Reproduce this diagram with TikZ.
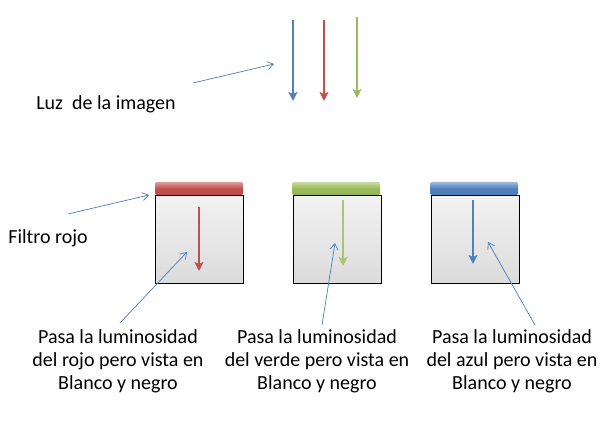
\documentclass[tikz,border=0pt]{standalone}
\usepackage{fontspec}
\setmainfont{Carlito}
\usetikzlibrary{arrows.meta}
\definecolor{oblue}{HTML}{4F81BD}
\definecolor{ored}{HTML}{C0504D}
\definecolor{ogreen}{HTML}{9BBB59}
\definecolor{ptr}{HTML}{4A7EBB}
\tikzset{
  lbl/.style={font=\fontsize{20}{23}\selectfont, align=center, inner sep=0pt},
  ray/.style={line width=2.6pt, -{Stealth[length=9pt,width=9pt,inset=2pt]}},
  pointer/.style={draw=ptr, line width=0.7pt, -{Straight Barb[length=6pt,width=8pt]}},
  boxnode/.style={draw=black, line width=0.8pt, minimum width=88pt, minimum height=88pt, inner sep=0pt, top color=gray!10, bottom color=gray!28},
  barnode/.style={minimum width=88pt, minimum height=13pt, inner sep=0pt, rounded corners=1.5pt},
}
\begin{document}
\begin{tikzpicture}[x=1pt,y=-1pt]
\useasboundingbox (0,0) rectangle (605,427);
% top light rays
\coordinate (bs) at (293,20); \coordinate (be) at (293,101);
\coordinate (rs) at (324,20); \coordinate (re) at (324,101);
\coordinate (gs) at (357,17); \coordinate (ge) at (357,98);
\draw[ray, oblue] (bs) -- (be);
\draw[ray, ored] (rs) -- (re);
\draw[ray, ogreen] (gs) -- (ge);
\node[lbl] (luz) at (106,104) {Luz \ de la imagen};
\coordinate (luzS) at (193,83); \coordinate (luzE) at (274,64);
\draw[pointer] (luzS) -- (luzE);
% filters
\node[boxnode] (boxR) at (199.5,239) {};
\node[boxnode] (boxG) at (337,239) {};
\node[boxnode] (boxB) at (475,239) {};
\node[barnode, top color=ored!55, bottom color=ored!95!black, middle color=ored] (barR) at (199,188.5) {};
\node[barnode, top color=ogreen!55, bottom color=ogreen!95!black, middle color=ogreen] (barG) at (336,188.5) {};
\node[barnode, top color=oblue!55, bottom color=oblue!95!black, middle color=oblue] (barB) at (474,188.5) {};
% rays inside the filters
\coordinate (r2s) at (199,207); \coordinate (r2e) at (199,271);
\coordinate (g2s) at (343,200); \coordinate (g2e) at (343,266);
\coordinate (b2s) at (473,200); \coordinate (b2e) at (473,264);
\draw[ray, ored] (r2s) -- (r2e);
\draw[ray, ogreen!85!white] (g2s) -- (g2e);
\draw[ray, oblue] (b2s) -- (b2e);
% filter label
\node[lbl] (filtro) at (48,238) {Filtro rojo};
\coordinate (fS) at (68,214); \coordinate (fE) at (149,195);
\draw[pointer] (fS) -- (fE);
% bottom labels
\node[lbl] (tR) at (118,361) {Pasa la luminosidad\\del rojo pero vista en\\Blanco y negro};
\node[lbl] (tG) at (317,361) {Pasa la luminosidad\\del verde pero vista en\\Blanco y negro};
\node[lbl] (tB) at (512,361) {Pasa la luminosidad\\del azul pero vista en\\Blanco y negro};
\coordinate (pR) at (187,252); \coordinate (pG) at (335,243); \coordinate (pB) at (488,242);
\coordinate (sR) at (120,323); \coordinate (sG) at (322,325); \coordinate (sB) at (535,325);
\draw[pointer] (sR) -- (pR);
\draw[pointer] (sG) -- (pG);
\draw[pointer] (sB) -- (pB);
\end{tikzpicture}
\end{document}
